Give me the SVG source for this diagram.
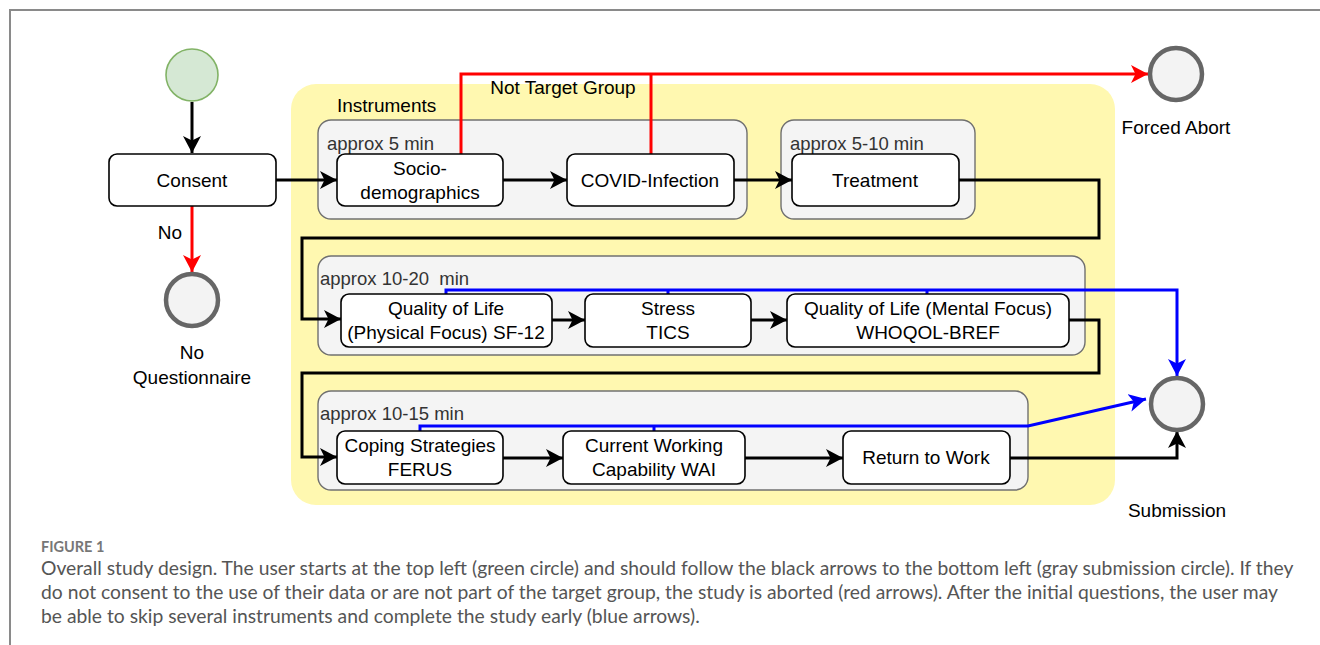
<svg xmlns="http://www.w3.org/2000/svg" width="1320" height="645" viewBox="0 0 1320 645">
<defs>
<style>
.t{font-family:"Liberation Sans",Arial,sans-serif;font-size:19px;fill:#000;text-anchor:middle}
.g{font-family:"Liberation Sans",Arial,sans-serif;font-size:18.5px;fill:#333}
.box{fill:#fff;stroke:#000;stroke-width:1.6}
.grp{fill:#f4f4f4;stroke:#707070;stroke-width:1.4}
.end{fill:#f3f3f3;stroke:#666;stroke-width:4.5}
.k{fill:none;stroke:#000;stroke-width:3}
.r{fill:none;stroke:#f00;stroke-width:3}
.b{fill:none;stroke:#00f;stroke-width:3}
.cap{font-family:Lato,"Open Sans",sans-serif;fill:#555;font-size:19.3px}
</style>
<marker id="ak" markerUnits="userSpaceOnUse" markerWidth="19" markerHeight="18" refX="17" refY="9" orient="auto"><path d="M0,0 L17,9 L0,18 L4.5,9 z" fill="#000"/></marker>
<marker id="ar" markerUnits="userSpaceOnUse" markerWidth="19" markerHeight="18" refX="17" refY="9" orient="auto"><path d="M0,0 L17,9 L0,18 L4.5,9 z" fill="#f00"/></marker>
<marker id="ab" markerUnits="userSpaceOnUse" markerWidth="19" markerHeight="18" refX="17" refY="9" orient="auto"><path d="M0,0 L17,9 L0,18 L4.5,9 z" fill="#00f"/></marker>
</defs>
<rect width="1320" height="645" fill="#fff"/>
<path d="M10,645 V10 H1320" fill="none" stroke="#8a8a8a" stroke-width="2"/>

<g id="instruments">
<rect x="291" y="84" width="824" height="421" rx="25" fill="#fff8b0"/>
<text class="t" x="337" y="112" style="text-anchor:start">Instruments</text>
</g>

<g id="group1"><rect class="grp" x="318" y="120" width="429" height="99" rx="13"/><text class="g" x="327" y="150">approx 5 min</text></g>
<g id="group2"><rect class="grp" x="781" y="120" width="194" height="99" rx="13"/><text class="g" x="790" y="150">approx 5-10 min</text></g>
<g id="group3"><rect class="grp" x="318" y="256" width="767" height="99" rx="13"/><text class="g" x="320" y="285" xml:space="preserve">approx 10-20  min</text></g>
<g id="group4"><rect class="grp" x="318" y="391" width="710" height="99" rx="13"/><text class="g" x="320" y="420">approx 10-15 min</text></g>

<g id="connectors">
<path class="k" d="M192,102 V153" marker-end="url(#ak)"/>
<path class="r" d="M192,206 V272" marker-end="url(#ar)"/>
<path class="k" d="M276,180 H337" marker-end="url(#ak)"/>
<path class="k" d="M503,180 H567" marker-end="url(#ak)"/>
<path class="k" d="M734,180 H792" marker-end="url(#ak)"/>
<path class="r" d="M461,154 V74 H1148" marker-end="url(#ar)"/>
<path class="r" d="M651,154 V74"/>
<path class="k" d="M959,180 H1099 V238 H302 V319 H341" marker-end="url(#ak)"/>
<path class="k" d="M552,320 H585" marker-end="url(#ak)"/>
<path class="k" d="M751,320 H787" marker-end="url(#ak)"/>
<path class="k" d="M1069,320 H1099 V373 H302 V457 H337" marker-end="url(#ak)"/>
<path class="k" d="M503,458 H563" marker-end="url(#ak)"/>
<path class="k" d="M745,458 H843" marker-end="url(#ak)"/>
<path class="k" d="M1010,458 H1177 V431" marker-end="url(#ak)"/>
<path class="b" d="M446,294 V290 H1177 V376" marker-end="url(#ab)"/>
<path class="b" d="M668,294 V290 M927,294 V290"/>
<path class="b" d="M420,431 V426 H1028 L1146,399" marker-end="url(#ab)"/>
<path class="b" d="M654,431 V426"/>
<text class="t" x="170" y="239">No</text>
<text class="t" x="563" y="94">Not Target Group</text>
</g>

<g id="start"><circle cx="192" cy="75" r="26" fill="#d5e8d4" stroke="#82b366" stroke-width="1.6"/></g>
<g id="consent"><rect class="box" x="109" y="154" width="167" height="52" rx="8"/><text class="t" x="192" y="187">Consent</text></g>
<g id="noq"><circle class="end" cx="192" cy="300" r="26"/><text class="t" x="192" y="359">No</text><text class="t" x="192" y="384">Questionnaire</text></g>
<g id="abort"><circle class="end" cx="1176" cy="74" r="26"/><text class="t" x="1176" y="134">Forced Abort</text></g>
<g id="submission"><circle class="end" cx="1177" cy="404" r="26"/><text class="t" x="1177" y="517">Submission</text></g>

<g id="socio"><rect class="box" x="337" y="154" width="166" height="52" rx="8"/><text class="t" x="420" y="175">Socio-</text><text class="t" x="420" y="199">demographics</text></g>
<g id="covid"><rect class="box" x="567" y="154" width="167" height="52" rx="8"/><text class="t" x="650" y="187">COVID-Infection</text></g>
<g id="treatment"><rect class="box" x="792" y="154" width="167" height="52" rx="8"/><text class="t" x="875" y="187">Treatment</text></g>

<g id="qolphys"><rect class="box" x="341" y="294" width="211" height="53" rx="8"/><text class="t" x="446" y="315">Quality of Life</text><text class="t" x="446" y="339">(Physical Focus) SF-12</text></g>
<g id="stress"><rect class="box" x="585" y="294" width="166" height="53" rx="8"/><text class="t" x="668" y="315">Stress</text><text class="t" x="668" y="339">TICS</text></g>
<g id="qolment"><rect class="box" x="787" y="294" width="282" height="53" rx="8"/><text class="t" x="928" y="315">Quality of Life (Mental Focus)</text><text class="t" x="928" y="339">WHOQOL-BREF</text></g>

<g id="coping"><rect class="box" x="337" y="431" width="166" height="53" rx="8"/><text class="t" x="420" y="452">Coping Strategies</text><text class="t" x="420" y="476">FERUS</text></g>
<g id="wai"><rect class="box" x="563" y="431" width="182" height="53" rx="8"/><text class="t" x="654" y="452">Current Working</text><text class="t" x="654" y="476">Capability WAI</text></g>
<g id="rtw"><rect class="box" x="843" y="431" width="167" height="53" rx="8"/><text class="t" x="926" y="464">Return to Work</text></g>

<g id="caption">
<text x="41" y="552" style="font-family:Lato,'Open Sans',sans-serif;font-size:14.5px;font-weight:bold;fill:#777">FIGURE 1</text>
<text class="cap" x="41" y="575">Overall study design. The user starts at the top left (green circle) and should follow the black arrows to the bottom left (gray submission circle). If they</text>
<text class="cap" x="41" y="599">do not consent to the use of their data or are not part of the target group, the study is aborted (red arrows). After the initial questions, the user may</text>
<text class="cap" x="41" y="623">be able to skip several instruments and complete the study early (blue arrows).</text>
</g>
</svg>
